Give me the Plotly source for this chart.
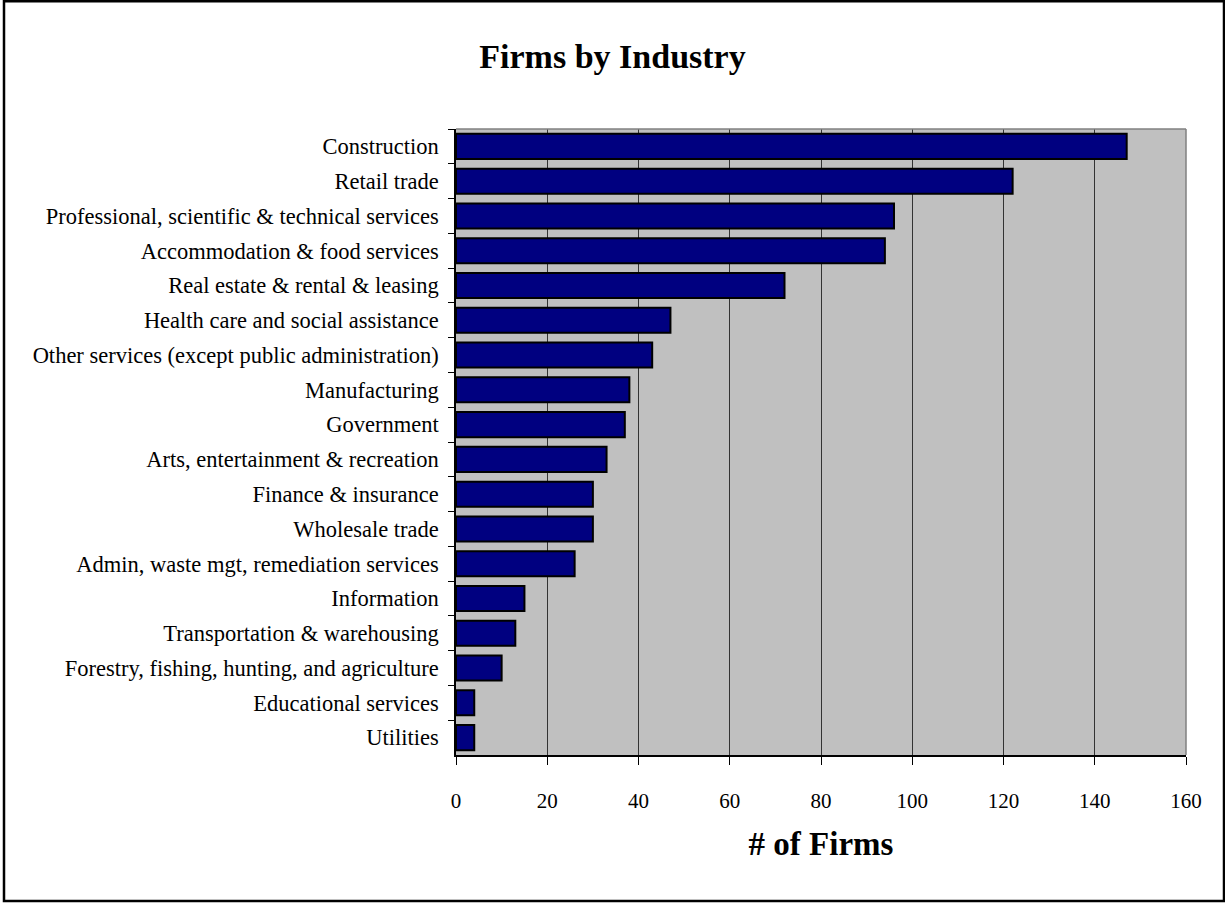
import plotly.graph_objects as go

industries = [
    "Construction",
    "Retail trade",
    "Professional, scientific & technical services",
    "Accommodation & food services",
    "Real estate & rental & leasing",
    "Health care and social assistance",
    "Other services (except public administration)",
    "Manufacturing",
    "Government",
    "Arts, entertainment & recreation",
    "Finance & insurance",
    "Wholesale trade",
    "Admin, waste mgt, remediation services",
    "Information",
    "Transportation & warehousing",
    "Forestry, fishing, hunting, and agriculture",
    "Educational services",
    "Utilities",
]
firms = [147, 122, 96, 94, 72, 47, 43, 38, 37, 33, 30, 30, 26, 15, 13, 10, 4, 4]
x_ticks = [0, 20, 40, 60, 80, 100, 120, 140, 160]

W, H = 1225, 903
ML, MR, MT, MB = 456, 39, 129, 148
PW, PH = W - ML - MR, H - MT - MB

FONT = "Liberation Serif"

fig = go.Figure(
    go.Bar(
        x=firms,
        y=industries,
        orientation="h",
        marker=dict(color="#000080", line=dict(color="black", width=2)),
        width=0.72,
    )
)

fig.update_layout(
    width=W,
    height=H,
    margin=dict(l=ML, r=MR, t=MT, b=MB, pad=0),
    paper_bgcolor="white",
    plot_bgcolor="#C0C0C0",
    showlegend=False,
    font=dict(family=FONT, size=21, color="black"),
    title=dict(
        text="<b>Firms by Industry</b>",
        x=0.5,
        xref="container",
        xanchor="center",
        y=1 - 56 / H,
        yanchor="middle",
        font=dict(family=FONT, size=34, color="black"),
    ),
)

fig.update_xaxes(
    range=[0, 160],
    tickvals=x_ticks,
    ticktext=[str(v) for v in x_ticks],
    showgrid=True,
    gridcolor="#333333",
    gridwidth=1,
    zeroline=False,
    showline=True,
    linecolor="black",
    linewidth=1.5,
    ticks="outside",
    ticklen=8,
    tickcolor="black",
    ticklabelstandoff=18,
    tickfont=dict(family=FONT, size=21),
    title=dict(text="<b># of Firms</b>", font=dict(family=FONT, size=33), standoff=20),
)

fig.update_yaxes(
    autorange="reversed",
    showgrid=False,
    showline=True,
    linecolor="black",
    linewidth=1.5,
    ticks="outside",
    tickson="boundaries",
    ticklen=6,
    tickcolor="black",
    ticklabelstandoff=11,
    tickfont=dict(family=FONT, size=22.5),
)

# gray top/right plot border
fig.add_shape(type="line", xref="paper", yref="paper", x0=0, x1=1, y0=1, y1=1,
              line=dict(color="#808080", width=1.5), layer="above")
fig.add_shape(type="line", xref="paper", yref="paper", x0=1, x1=1, y0=0, y1=1,
              line=dict(color="#808080", width=1.5), layer="above")

# outer frame around entire chart (pixel positions converted to paper coords)
def px_x(p):
    return (p - ML) / PW

def px_y(p):
    return (H - MB - p) / PH

fig.add_shape(type="rect", xref="paper", yref="paper",
              x0=px_x(4), x1=px_x(1224), y0=px_y(901), y1=px_y(1.3),
              line=dict(color="black", width=2.5), fillcolor="rgba(0,0,0,0)", layer="above")

fig.write_html(
    "out.html",
    config={"displayModeBar": False},
    post_script="document.body.style.margin='0px';document.body.style.overflow='hidden';",
)
